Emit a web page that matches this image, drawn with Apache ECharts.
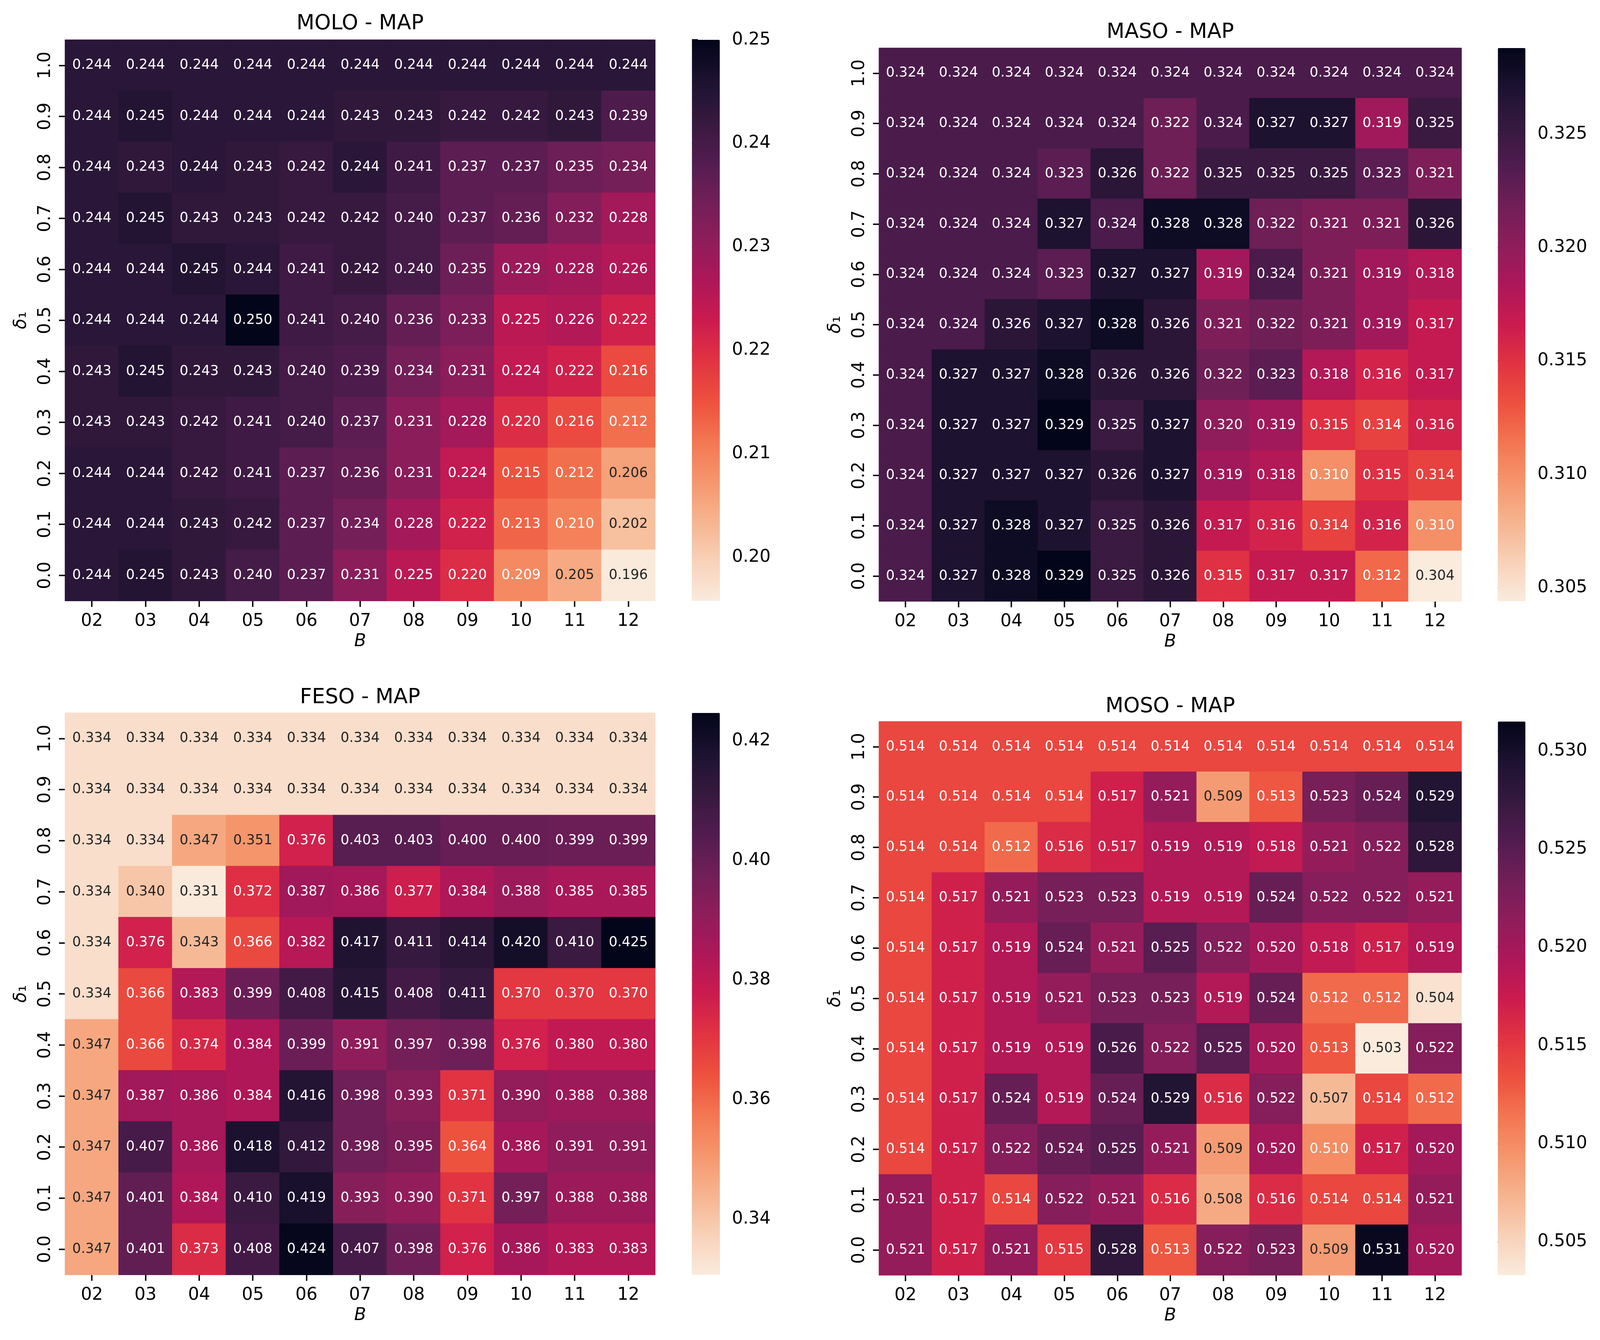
<!DOCTYPE html>
<html>
<head>
<meta charset="utf-8">
<style>html,body{margin:0;padding:0;background:#fff;overflow:hidden}#c{width:100vw;height:100vh}</style>
<script src="https://cdn.jsdelivr.net/npm/echarts@6/dist/echarts.min.js"></script>
</head>
<body>
<div id="c"></div>
<script>
const bLabels = ['02','03','04','05','06','07','08','09','10','11','12'];
const deltaLabels = ['1.0','0.9','0.8','0.7','0.6','0.5','0.4','0.3','0.2','0.1','0.0'];

const moloValues = [
 [.244,.244,.244,.244,.244,.244,.244,.244,.244,.244,.244],
 [.244,.245,.244,.244,.244,.243,.243,.242,.242,.243,.239],
 [.244,.243,.244,.243,.242,.244,.241,.237,.237,.235,.234],
 [.244,.245,.243,.243,.242,.242,.240,.237,.236,.232,.228],
 [.244,.244,.245,.244,.241,.242,.240,.235,.229,.228,.226],
 [.244,.244,.244,.250,.241,.240,.236,.233,.225,.226,.222],
 [.243,.245,.243,.243,.240,.239,.234,.231,.224,.222,.216],
 [.243,.243,.242,.241,.240,.237,.231,.228,.220,.216,.212],
 [.244,.244,.242,.241,.237,.236,.231,.224,.215,.212,.206],
 [.244,.244,.243,.242,.237,.234,.228,.222,.213,.210,.202],
 [.244,.245,.243,.240,.237,.231,.225,.220,.209,.205,.196]
];
const masoValues = [
 [.324,.324,.324,.324,.324,.324,.324,.324,.324,.324,.324],
 [.324,.324,.324,.324,.324,.322,.324,.327,.327,.319,.325],
 [.324,.324,.324,.323,.326,.322,.325,.325,.325,.323,.321],
 [.324,.324,.324,.327,.324,.328,.328,.322,.321,.321,.326],
 [.324,.324,.324,.323,.327,.327,.319,.324,.321,.319,.318],
 [.324,.324,.326,.327,.328,.326,.321,.322,.321,.319,.317],
 [.324,.327,.327,.328,.326,.326,.322,.323,.318,.316,.317],
 [.324,.327,.327,.329,.325,.327,.320,.319,.315,.314,.316],
 [.324,.327,.327,.327,.326,.327,.319,.318,.310,.315,.314],
 [.324,.327,.328,.327,.325,.326,.317,.316,.314,.316,.310],
 [.324,.327,.328,.329,.325,.326,.315,.317,.317,.312,.304]
];
const fesoValues = [
 [.334,.334,.334,.334,.334,.334,.334,.334,.334,.334,.334],
 [.334,.334,.334,.334,.334,.334,.334,.334,.334,.334,.334],
 [.334,.334,.347,.351,.376,.403,.403,.400,.400,.399,.399],
 [.334,.340,.331,.372,.387,.386,.377,.384,.388,.385,.385],
 [.334,.376,.343,.366,.382,.417,.411,.414,.420,.410,.425],
 [.334,.366,.383,.399,.408,.415,.408,.411,.370,.370,.370],
 [.347,.366,.374,.384,.399,.391,.397,.398,.376,.380,.380],
 [.347,.387,.386,.384,.416,.398,.393,.371,.390,.388,.388],
 [.347,.407,.386,.418,.412,.398,.395,.364,.386,.391,.391],
 [.347,.401,.384,.410,.419,.393,.390,.371,.397,.388,.388],
 [.347,.401,.373,.408,.424,.407,.398,.376,.386,.383,.383]
];
const mosoValues = [
 [.514,.514,.514,.514,.514,.514,.514,.514,.514,.514,.514],
 [.514,.514,.514,.514,.517,.521,.509,.513,.523,.524,.529],
 [.514,.514,.512,.516,.517,.519,.519,.518,.521,.522,.528],
 [.514,.517,.521,.523,.523,.519,.519,.524,.522,.522,.521],
 [.514,.517,.519,.524,.521,.525,.522,.520,.518,.517,.519],
 [.514,.517,.519,.521,.523,.523,.519,.524,.512,.512,.504],
 [.514,.517,.519,.519,.526,.522,.525,.520,.513,.503,.522],
 [.514,.517,.524,.519,.524,.529,.516,.522,.507,.514,.512],
 [.514,.517,.522,.524,.525,.521,.509,.520,.510,.517,.520],
 [.521,.517,.514,.522,.521,.516,.508,.516,.514,.514,.521],
 [.521,.517,.521,.515,.528,.513,.522,.523,.509,.531,.520]
];

const moloTicks = [0.20,0.21,0.22,0.23,0.24,0.25];
const masoTicks = [0.305,0.310,0.315,0.320,0.325];
const fesoTicks = [0.34,0.36,0.38,0.40,0.42];
const mosoTicks = [0.505,0.510,0.515,0.520,0.525,0.530];

// seaborn "rocket_r": light to dark, evenly spaced
const rocketR = ['#faebdd','#f8d1b8','#f6b48f','#f5966d','#f37651','#ed503e','#e13342','#cb1b4f',
                 '#ad1759','#8e1d5b','#701f57','#511c4f','#35193e','#1c1230','#03051a'];

// same colour the visualMap gives a value, used to close the hairlines between cells
function rampColor(t){
  const n = rocketR.length-1, f = Math.min(n, Math.max(0,t))*1, s = Math.max(0,Math.min(1,t))*n;
  const i = Math.min(n-1, Math.floor(s)), k = s-i;
  const hex = (h)=>[1,3,5].map(j=>parseInt(h.substr(j,2),16));
  const a = hex(rocketR[i]), b = hex(rocketR[i+1]);
  return 'rgb('+a.map((v,j)=>Math.round(v+(b[j]-v)*k)).join(',')+')';
}

const FONT = '"DejaVu Sans"';
const W = window.innerWidth, H = window.innerHeight;
const sx = W/4181;                         // layout measured on the 4181 px wide reference
const panels = [
 {title:'MOLO - MAP', values:moloValues, ticks:moloTicks, digits:2, vmin:.1958, vmax:.2500,
  left:170, right:1712, top:102, bottom:1538, cbL:1808, cbR:1881, titleY:61},
 {title:'MASO - MAP', values:masoValues, ticks:masoTicks, digits:3, vmin:.3044, vmax:.3288,
  left:2297, right:3819, top:123, bottom:1539, cbL:3914, cbR:3986, titleY:83},
 {title:'FESO - MAP', values:fesoValues, ticks:fesoTicks, digits:2, vmin:.3307, vmax:.4247,
  left:170, right:1712, top:1825, bottom:3263, cbL:1808, cbR:1881, titleY:1786},
 {title:'MOSO - MAP', values:mosoValues, ticks:mosoTicks, digits:3, vmin:.5033, vmax:.5315,
  left:2297, right:3819, top:1847, bottom:3264, cbL:3914, cbR:3986, titleY:1809}
];

const option = {animation:false, backgroundColor:'#fff', title:[], grid:[], xAxis:[], yAxis:[], visualMap:[], series:[]};
const tickStyle = {show:true, length:15.5, lineStyle:{color:'#000', width:3.55}};
const labelStyle = {color:'#000', fontFamily:FONT, fontSize:44.44};

panels.forEach((p)=>{
  const L = p.left*sx, R = p.right*sx, CL = p.cbL*sx, CR = p.cbR*sx;
  option.title.push({text:p.title, left:(L+R)/2, top:p.titleY, textAlign:'center', textVerticalAlign:'middle',
    padding:0, textStyle:{color:'#000', fontFamily:FONT, fontSize:53.33, fontWeight:'normal'}});
  const g = option.grid.length;
  option.grid.push({left:L, top:p.top, width:R-L, height:p.bottom-p.top, outerBoundsMode:'none'});
  option.xAxis.push({type:'category', gridIndex:g, data:bLabels, position:'bottom', name:'B', nameLocation:'middle', nameGap:82,
    nameTextStyle:{color:'#000', fontFamily:FONT, fontSize:44.44, fontStyle:'italic'},
    axisLine:{show:false}, axisTick:Object.assign({alignWithLabel:true},tickStyle), splitLine:{show:false},
    axisLabel:Object.assign({interval:0, margin:30},labelStyle)});
  option.yAxis.push({type:'category', gridIndex:g, data:deltaLabels, inverse:true, position:'left', name:'{d|δ}{s|₁}', nameLocation:'middle', nameGap:90,
    nameTextStyle:{color:'#000', rich:{d:{fontFamily:FONT, fontSize:44.44, fontStyle:'italic'}, s:{fontFamily:FONT, fontSize:44.44}}},
    axisLine:{show:false}, axisTick:Object.assign({alignWithLabel:true},tickStyle), splitLine:{show:false},
    axisLabel:Object.assign({interval:0, margin:28, rotate:90},labelStyle)});
  const data = [];
  p.values.forEach((row,r)=>row.forEach((v,c)=>{
    const t = (v-p.vmin)/(p.vmax-p.vmin);
    data.push({value:[c,r,v], label:{color:t<0.22?'#262626':'#ffffff'},
      itemStyle:{borderWidth:1, borderColor:rampColor(t)}});
  }));
  const sIdx = option.series.length;
  option.series.push({type:'heatmap', xAxisIndex:g, yAxisIndex:g, data,
    progressive:0, silent:true, emphasis:{disabled:true},
    label:{show:true, fontFamily:FONT, fontSize:35, formatter:(o)=>o.value[2].toFixed(3)}});
  option.visualMap.push({type:'continuous', seriesIndex:sIdx, dimension:2, min:p.vmin, max:p.vmax, calculable:false, hoverLink:false, realtime:false,
    orient:'vertical', left:CL, top:p.top, itemWidth:CR-CL, itemHeight:p.bottom-p.top, padding:0, text:null, showLabel:false,
    inRange:{color:rocketR}, textStyle:{fontSize:0}});
  // colour bar axis
  const gc = option.grid.length;
  option.grid.push({left:CL, top:p.top, width:CR-CL, height:p.bottom-p.top, outerBoundsMode:'none'});
  option.xAxis.push({type:'value', gridIndex:gc, show:false, min:0, max:1});
  option.yAxis.push({type:'value', gridIndex:gc, position:'right', min:p.vmin, max:p.vmax, scale:true,
    axisLine:{show:false}, splitLine:{show:false},
    axisTick:Object.assign({customValues:p.ticks},tickStyle),
    axisLabel:Object.assign({customValues:p.ticks, margin:31, align:'left', padding:[4,0,0,0], formatter:(v)=>v.toFixed(p.digits)},labelStyle)});
});

echarts.init(document.getElementById('c'), null, {renderer:'canvas', width:W, height:H}).setOption(option);
</script>
</body>
</html>
